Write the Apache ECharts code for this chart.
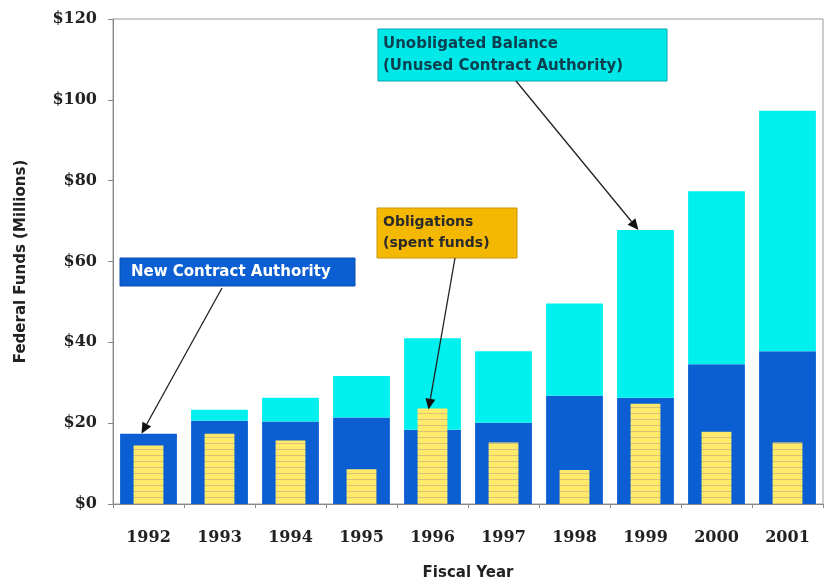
<!DOCTYPE html>
<html><head><meta charset="utf-8">
<script src="https://cdn.jsdelivr.net/npm/echarts@6/dist/echarts.min.js"></script>
<style>html,body{margin:0;padding:0;background:#fff}#c{width:831px;height:586px}</style>
</head><body><div id="c"></div>
<script>
const years = ['1992','1993','1994','1995','1996','1997','1998','1999','2000','2001'];
const newContractAuthority = [17.4, 20.6, 20.4, 21.4, 18.4, 20.1, 26.8, 26.3, 34.6, 37.8];
const totalAvailable = [17.4, 23.3, 26.3, 31.7, 41.0, 37.8, 49.6, 67.8, 77.4, 97.3];
const obligations = [14.5, 17.4, 15.7, 8.6, 23.6, 15.2, 8.4, 24.8, 17.9, 15.2];
const unobligated = totalAvailable.map((t, i) => +(t - newContractAuthority[i]).toFixed(1));
const yTicks = [0, 20, 40, 60, 80, 100, 120];

// hatch pattern for obligations
const pc = document.createElement('canvas');
pc.width = 8; pc.height = 6;
const pctx = pc.getContext('2d');
pctx.fillStyle = '#FFEA6A'; pctx.fillRect(0, 0, 8, 6);
pctx.fillStyle = '#D9C27A'; pctx.fillRect(0, 5, 8, 1);

const chart = echarts.init(document.getElementById('c'), null, {renderer: 'canvas'});
const serif = '"DejaVu Serif", "Liberation Serif", serif';
const sans = '"DejaVu Sans", Lato, sans-serif';

chart.setOption({
  animation: false,
  backgroundColor: '#fff',
  grid: {left: 113, right: 8, top: 19, bottom: 78, show: true, borderColor: '#9a9a9a', borderWidth: 1},
  xAxis: [{
    type: 'category', data: years,
    axisLine: {lineStyle: {color: '#888'}},
    axisTick: {show: true, length: 4, lineStyle: {color: '#888'}},
    axisLabel: {margin: 26, fontFamily: serif, fontWeight: 'bold', fontSize: 16, color: '#222'},
    name: 'Fiscal Year', nameLocation: 'middle', nameGap: 62,
    nameTextStyle: {fontFamily: sans, fontWeight: 'bold', fontSize: 15, color: '#222'}
  }, {
    type: 'category', data: years, show: false
  }],
  yAxis: {
    type: 'value', min: 0, max: 120, interval: 20,
    splitLine: {show: false},
    axisLine: {show: true, lineStyle: {color: '#888'}},
    axisTick: {show: true, length: 5, lineStyle: {color: '#888'}},
    axisLabel: {margin: 16, fontFamily: serif, fontWeight: 'bold', fontSize: 16, color: '#222',
      formatter: v => yTicks.indexOf(v) >= 0 ? '$' + v : ''},
    name: 'Federal Funds (Millions)', nameLocation: 'middle', nameGap: 84,
    nameTextStyle: {fontFamily: sans, fontWeight: 'bold', fontSize: 15, color: '#222'}
  },
  series: [{
    name: 'New Contract Authority', type: 'bar', stack: 'a', xAxisIndex: 0,
    barWidth: '80%', data: newContractAuthority, itemStyle: {color: '#0B5FD2'}
  }, {
    name: 'Unobligated Balance', type: 'bar', stack: 'a', xAxisIndex: 0,
    barWidth: '80%', data: unobligated, itemStyle: {color: '#00F0F0'}
  }, {
    name: 'Obligations', type: 'bar', xAxisIndex: 1, z: 3,
    barWidth: '42%', data: obligations,
    itemStyle: {color: {image: pc, repeat: 'repeat'}}
  }]
});

function arrow(x1, y1, x2, y2) {
  const a = Math.atan2(y2 - y1, x2 - x1), L = 11, W = 5;
  const bx = x2 - L * Math.cos(a), by = y2 - L * Math.sin(a);
  const px = -Math.sin(a) * W, py = Math.cos(a) * W;
  return [
    {type: 'line', shape: {x1, y1, x2: bx, y2: by}, style: {stroke: '#222', lineWidth: 1.3}, z: 20},
    {type: 'polygon', shape: {points: [[x2, y2], [bx + px, by + py], [bx - px, by - py]]}, style: {fill: '#111'}, z: 20}
  ];
}

const p1992 = chart.convertToPixel({xAxisIndex: 0, yAxisIndex: 0}, ['1992', newContractAuthority[0]]);
const p1996 = chart.convertToPixel({xAxisIndex: 1, yAxisIndex: 0}, ['1996', obligations[4]]);
const p1999 = chart.convertToPixel({xAxisIndex: 0, yAxisIndex: 0}, ['1999', totalAvailable[7]]);

const boxes = [
  {type: 'rect', shape: {x: 120, y: 258, width: 235, height: 28}, style: {fill: '#0B5FD2', stroke: '#0a4fb0', lineWidth: 1}, z: 15},
  {type: 'text', x: 131, y: 272, style: {text: 'New Contract Authority', fill: '#fff', font: 'bold 15px ' + sans, textVerticalAlign: 'middle'}, z: 16},
  {type: 'rect', shape: {x: 377, y: 208, width: 140, height: 50}, style: {fill: '#F5B800', stroke: '#c99500', lineWidth: 1}, z: 15},
  {type: 'text', x: 383, y: 233, style: {text: 'Obligations\n(spent funds)', fill: '#2a2a2a', font: 'bold 14px ' + sans, lineHeight: 21, textVerticalAlign: 'middle'}, z: 16},
  {type: 'rect', shape: {x: 378, y: 29, width: 289, height: 52}, style: {fill: '#00E8E8', stroke: '#00a8b0', lineWidth: 1}, z: 15},
  {type: 'text', x: 383, y: 55, style: {text: 'Unobligated Balance\n(Unused Contract Authority)', fill: '#0b4050', font: 'bold 15px ' + sans, lineHeight: 22, textVerticalAlign: 'middle'}, z: 16}
];
const arrows = [].concat(
  arrow(222, 288, p1992[0] - 7, p1992[1]),
  arrow(455, 258, p1996[0] - 4, p1996[1] + 1),
  arrow(516, 81, p1999[0] - 7, p1999[1])
);
chart.setOption({graphic: boxes.concat(arrows)});
</script></body></html>
